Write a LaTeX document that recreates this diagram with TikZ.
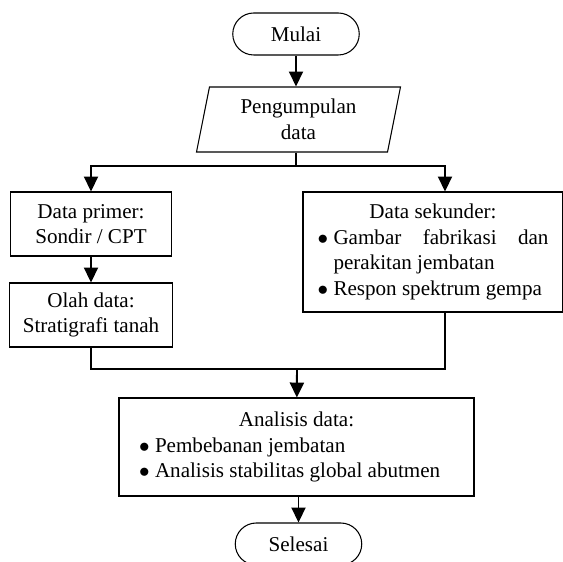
\documentclass[tikz,border=0pt]{standalone}
\usepackage{fontspec}
\setmainfont{Liberation Serif}
\usetikzlibrary{shapes.geometric,arrows.meta}
\newcommand{\butir}[1]{\par\noindent\hangindent=0.32cm\hangafter=1%
  \makebox[0.32cm][l]{$\bullet$}#1\par}
\newcommand{\judul}[1]{{\centering #1\par}}
\hyphenpenalty=10000
\tolerance=9999

\begin{document}
\begin{tikzpicture}[
      every node/.style = {draw, line width=0.6pt,
        font=\fontsize{12}{14.5}\selectfont},
      terminal/.style = {shape=rectangle, rounded corners=0.42cm,
        minimum width=2.53cm, minimum height=0.84cm},
      io/.style = {shape=trapezium, trapezium left angle=76,
        trapezium right angle=104, trapezium stretches body,
        align=center, minimum width=4.08cm, minimum height=1.3cm},
      proses/.style = {shape=rectangle, align=center, minimum height=1.28cm},
      daftar/.style = {shape=rectangle, align=justify, inner ysep=0pt},
      garis/.style = {line width=1.1pt},
      panah/.style = {line width=1.1pt, -{Triangle[width=8pt,length=8.5pt]}}]
    \useasboundingbox (0,0) rectangle (11.26,-11.24);

    \node[terminal] (mulai) at (5.92,-0.68) {Mulai};
    \node[io] (kumpul) at (5.97,-2.39) {Pengumpulan\\data};
    \node[proses, minimum width=3.22cm] (primer) at (1.82,-4.48)
      {Data primer:\\Sondir / CPT};
    \node[proses, minimum width=3.26cm] (olah) at (1.82,-6.3)
      {Olah data:\\Stratigrafi tanah};
    \node[daftar, text width=4.62cm, inner xsep=0.29cm, minimum height=2.4cm]
      (sekunder) at (8.66,-5.04)
      {\judul{Data sekunder:}%
       \butir{Gambar fabrikasi dan perakitan jembatan}%
       \butir{Respon spektrum gempa}};
    \node[daftar, text width=6.3cm, inner xsep=0.4cm, minimum height=1.96cm]
      (analisis) at (5.93,-8.94)
      {\judul{Analisis data:}%
       \butir{Pembebanan jembatan}%
       \butir{Analisis stabilitas global abutmen}};
    \node[terminal] (selesai) at (5.97,-10.88) {Selesai};

    \coordinate (cabang) at (5.92,-3.32);
    \coordinate (gabung) at (5.94,-7.38);

    % alur
    \draw[panah] (mulai) -- (mulai |- kumpul.north);
    \draw[garis] (kumpul.south -| cabang) -- (cabang);
    \draw[panah] (cabang) -| (primer);
    \draw[panah] (cabang) -| ([xshift=0.24cm]sekunder.north);
    \draw[panah] (primer) -- (olah);
    \draw[garis] (olah) |- (gabung);
    \draw[garis] ([xshift=0.24cm]sekunder.south) |- (gabung);
    \draw[panah] (gabung) -- (analisis);
    \draw[panah] (analisis.south -| selesai) -- (selesai);
\end{tikzpicture}
\end{document}
